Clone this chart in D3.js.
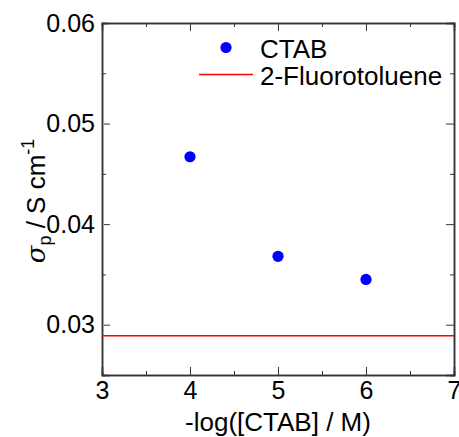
<!DOCTYPE html>
<html>
<head>
<meta charset="utf-8">
<script src="https://cdn.jsdelivr.net/npm/d3@7"></script>
<style>
  body { margin: 0; background: #fff; }
  text { font-family: "Liberation Sans", Arial, sans-serif; fill: #000; }
</style>
</head>
<body>
<div id="chart"></div>
<script>
// data
var concentration = [4, 5, 6];               // -log([CTAB] / M)
var conductivity = [0.0467, 0.0368, 0.0345]; // sigma_p, S cm-1
var referenceLevel = [0.0289];               // 2-Fluorotoluene
var xTicks = [3, 4, 5, 6, 7];
var yTicks = [0.03, 0.04, 0.05, 0.06];
var legendLabels = ["CTAB", "2-Fluorotoluene"];

var width = 459, height = 437;
var margin = {left: 102, top: 23, right: 5, bottom: 62};

var svg = d3.select('#chart').append('svg')
  .attr('width', width)
  .attr('height', height);

var x = d3.scaleLinear().domain([3, 7]).range([margin.left, width - margin.right]);
var y = d3.scaleLinear().domain([0.025, 0.06]).range([height - margin.bottom, margin.top]);

var axisColor = '#333';
var tickFont = 25, labelFont = 26;

// inward ticks on all four sides
function frameAxis(gen, tr) {
  var g = svg.append('g').attr('transform', tr).call(gen);
  g.select('.domain').attr('stroke', axisColor).attr('stroke-width', 1.5);
  g.selectAll('.tick line').attr('stroke', axisColor).attr('stroke-width', 1);
  g.selectAll('text').style('font-size', tickFont + 'px')
    .style('font-family', '"Liberation Sans", Arial, sans-serif').attr('fill', '#000');
  return g;
}

var x0 = x.range()[0], x1 = x.range()[1], y0 = y.range()[0], y1 = y.range()[1];

// minor ticks
var xMinor = [3.5, 4.5, 5.5, 6.5];
var yMinor = [0.035, 0.045, 0.055];

frameAxis(d3.axisBottom(x).tickValues(xMinor).tickSize(-4).tickFormat(''), 'translate(0,' + y0 + ')');
frameAxis(d3.axisTop(x).tickValues(xMinor).tickSize(-4).tickFormat(''), 'translate(0,' + y1 + ')');
frameAxis(d3.axisLeft(y).tickValues(yMinor).tickSize(-4).tickFormat(''), 'translate(' + x0 + ',0)');
frameAxis(d3.axisRight(y).tickValues(yMinor).tickSize(-4).tickFormat(''), 'translate(' + x1 + ',0)');

frameAxis(d3.axisBottom(x).tickValues(xTicks).tickSize(-8).tickPadding(6).tickFormat(d3.format('d')), 'translate(0,' + y0 + ')');
frameAxis(d3.axisTop(x).tickValues(xTicks).tickSize(-8).tickFormat(''), 'translate(0,' + y1 + ')');
var yl = frameAxis(d3.axisLeft(y).tickValues(yTicks).tickSize(-8).tickPadding(7).tickFormat(d3.format('.2f')), 'translate(' + x0 + ',0)');
frameAxis(d3.axisRight(y).tickValues(yTicks).tickSize(-8).tickFormat(''), 'translate(' + x1 + ',0)');

// short outward stub at major y ticks
yl.selectAll('.tick line').attr('x1', 2);

// reference line
svg.selectAll('.ref').data(referenceLevel).enter().append('line')
  .attr('class', 'ref')
  .attr('x1', x0).attr('x2', x1)
  .attr('y1', function(d) { return y(d); }).attr('y2', function(d) { return y(d); })
  .attr('stroke', '#ff0000').attr('stroke-width', 1.5);

// data points
svg.selectAll('.pt').data(concentration).enter().append('circle')
  .attr('class', 'pt')
  .attr('cx', function(d) { return x(d); })
  .attr('cy', function(d, i) { return y(conductivity[i]); })
  .attr('r', 5.6)
  .attr('fill', '#0000ff');

// legend
var lg = svg.append('g').attr('transform', 'translate(226,47.5)');
lg.append('circle').attr('r', 5.6).attr('fill', '#0000ff');
lg.append('line').attr('x1', -27).attr('x2', 27).attr('y1', 27).attr('y2', 27)
  .attr('stroke', '#ff0000').attr('stroke-width', 1.5);
lg.selectAll('text').data(legendLabels).enter().append('text')
  .attr('x', 34)
  .attr('y', function(d, i) { return 10 + i * 27.5; })
  .style('font-size', labelFont + 'px')
  .text(function(d) { return d; });

// axis titles
svg.append('text')
  .attr('x', (x0 + x1) / 2).attr('y', 431)
  .attr('text-anchor', 'middle')
  .style('font-size', labelFont + 'px')
  .text('-log([CTAB] / M)');

var yt = svg.append('text')
  .attr('transform', 'translate(45,201) rotate(-90)')
  .attr('text-anchor', 'middle')
  .style('font-size', labelFont + 'px');
yt.append('tspan').style('font-family', '"DejaVu Serif", serif').style('font-style', 'italic').text('σ');
yt.append('tspan').attr('dy', 6).style('font-size', '18px').text('p');
yt.append('tspan').attr('dy', -6).text(' / S cm');
yt.append('tspan').attr('dy', -11).style('font-size', '18px').text('-1');
</script>
</body>
</html>
